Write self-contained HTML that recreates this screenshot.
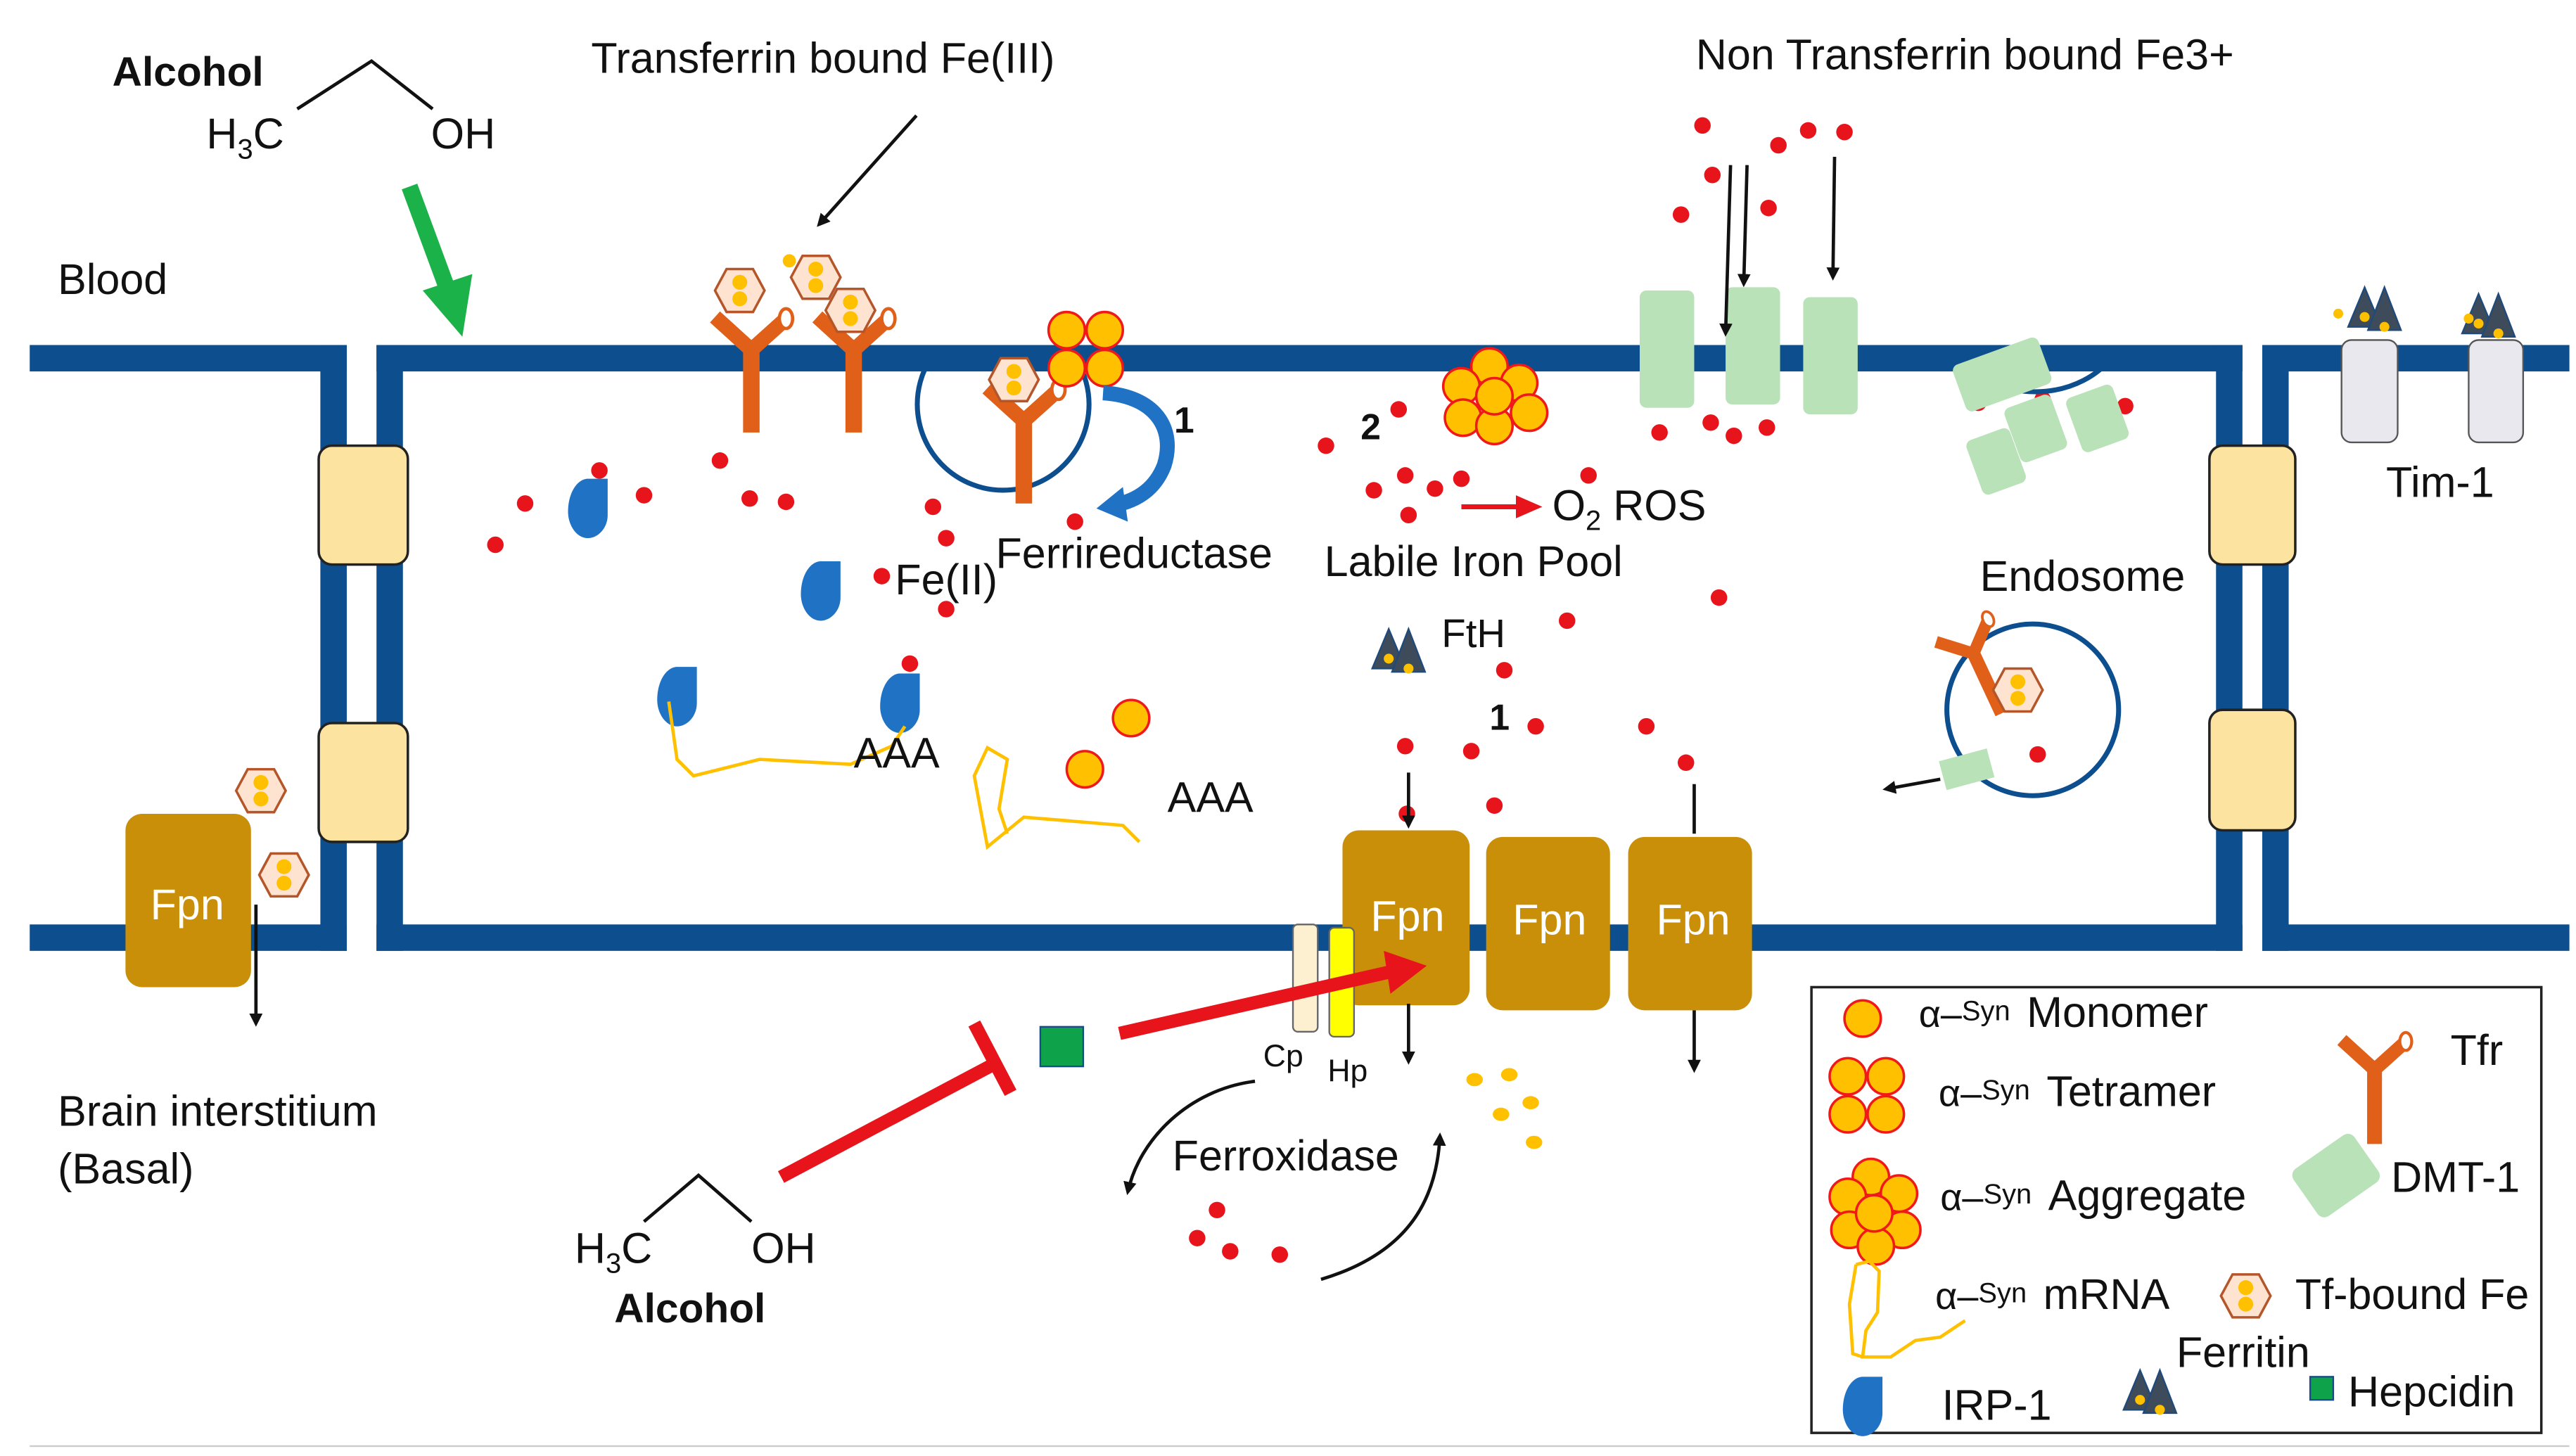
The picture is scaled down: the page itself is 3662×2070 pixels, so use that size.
<!DOCTYPE html>
<html><head><meta charset="utf-8"><style>
html,body{margin:0;padding:0;background:#fff}
svg{display:block}
text{font-family:"Liberation Sans",sans-serif;fill:#111}
</style></head><body>
<svg width="3662" height="2070" viewBox="0 0 1560 882" preserveAspectRatio="none" xmlns="http://www.w3.org/2000/svg">
<defs>
<marker id="ah" markerWidth="8" markerHeight="8" refX="6" refY="4" orient="auto" markerUnits="userSpaceOnUse"><path d="M0,0 L8,4 L0,8 z" fill="#111"/></marker>
<marker id="ahr" markerWidth="16" markerHeight="14" refX="10" refY="7" orient="auto" markerUnits="userSpaceOnUse"><path d="M0,0 L16,7 L0,14 z" fill="#e8141c"/></marker>
<g id="hex"><polygon points="-15,0 -8,-13 8,-13 15,0 8,13 -8,13" fill="#fde3d0" stroke="#b5562a" stroke-width="1.5"/><circle cx="0" cy="-5" r="4.5" fill="#ffc000"/><circle cx="0" cy="5" r="4.5" fill="#ffc000"/></g>
<g id="tfr"><path d="M-22,-20 L0,0 L20,-18" fill="none" stroke="#e0601a" stroke-width="9"/><rect x="-5" y="-2" width="10" height="52" fill="#e0601a"/><ellipse cx="21" cy="-19" rx="4" ry="6" fill="#fff" stroke="#e0601a" stroke-width="2"/></g>
<g id="mono"><circle r="11" fill="#ffc000" stroke="#f01818" stroke-width="1.5"/></g>
<g id="ferr"><polygon points="-14,12 -4,-12 6,12" fill="#3d4b5a" stroke="#1f4a7a"/><polygon points="-2,14 8,-12 18,14" fill="#3d4b5a" stroke="#1f4a7a"/><circle cx="-4" cy="6" r="3" fill="#ffc000"/><circle cx="8" cy="12" r="3" fill="#ffc000"/></g>
<g id="irp"><path d="M0,-16 L12,-16 L12,6 C12,14 6,20 0,20 C-7,20 -12,12 -12,4 C-12,-8 -6,-16 0,-16 z" fill="#1f72c4"/></g>
<g id="d"><circle r="5" fill="#e8141c"/></g>
</defs>

<g fill="#0c4e8e">
<rect x="18" y="209" width="192" height="16"/>
<rect x="228" y="209" width="1130" height="16"/>
<rect x="1370" y="209" width="186" height="16"/>
<rect x="18" y="560" width="192" height="16"/>
<rect x="228" y="560" width="1130" height="16"/>
<rect x="1370" y="560" width="186" height="16"/>
<rect x="194" y="209" width="16" height="367"/>
<rect x="228" y="209" width="16" height="367"/>
<rect x="1342" y="209" width="16" height="367"/>
<rect x="1370" y="209" width="16" height="367"/>
</g>
<g fill="#fde3a0" stroke="#222" stroke-width="1.5">
<rect x="193" y="270" width="54" height="72" rx="8"/>
<rect x="193" y="438" width="54" height="72" rx="8"/>
<rect x="1338" y="270" width="52" height="72" rx="8"/>
<rect x="1338" y="430" width="52" height="73" rx="8"/>
</g>

<text x="68" y="52" font-size="25" font-weight="bold">Alcohol</text>
<text x="125" y="90" font-size="26">H<tspan font-size="17" dy="6">3</tspan><tspan dy="-6">C</tspan></text>
<text x="261" y="90" font-size="26">OH</text>
<path d="M180,66 L225,37 L262,66" fill="none" stroke="#111" stroke-width="2"/>
<line x1="248" y1="113" x2="272" y2="178" stroke="#1cb24a" stroke-width="10"/>
<polygon points="256,176 286,166 280,204" fill="#1cb24a"/>
<text x="358" y="44" font-size="26">Transferrin bound Fe(III)</text>
<line x1="555" y1="70" x2="496" y2="136" stroke="#111" stroke-width="2" marker-end="url(#ah)"/>
<text x="35" y="178" font-size="26">Blood</text>
<text x="1027" y="42" font-size="26">Non Transferrin bound Fe3+</text>

<use href="#tfr" x="455" y="212"/>
<use href="#tfr" x="517" y="212"/>
<use href="#hex" x="448" y="176"/>
<use href="#hex" x="494" y="168"/>
<use href="#hex" x="515" y="188"/>
<circle cx="478" cy="158" r="4" fill="#ffc000"/>
<path d="M565,215 A52,52 0 1 0 650,215" fill="none" stroke="#0c4e8e" stroke-width="3"/>
<use href="#tfr" x="620" y="255"/>
<use href="#hex" x="614" y="230"/>
<use href="#mono" x="646" y="200"/><use href="#mono" x="669" y="200"/><use href="#mono" x="646" y="223"/><use href="#mono" x="669" y="223"/>
<path d="M668,238 C700,240 712,260 705,282 C700,295 690,303 675,306" fill="none" stroke="#1f72c4" stroke-width="9"/>
<polygon points="680,295 664,308 683,316" fill="#1f72c4"/>
<text x="711" y="262" font-size="22" font-weight="bold">1</text>
<text x="603" y="344" font-size="26">Ferrireductase</text>
<text x="542" y="360" font-size="26">Fe(II)</text>

<use href="#irp" x="356" y="306"/>
<use href="#irp" x="497" y="356"/>
<use href="#irp" x="410" y="420"/>
<use href="#irp" x="545" y="424"/>
<g>
<use href="#d" x="300" y="330"/><use href="#d" x="318" y="305"/><use href="#d" x="363" y="285"/><use href="#d" x="390" y="300"/>
<use href="#d" x="436" y="279"/><use href="#d" x="454" y="302"/><use href="#d" x="476" y="304"/><use href="#d" x="565" y="307"/>
<use href="#d" x="573" y="326"/><use href="#d" x="651" y="316"/><use href="#d" x="534" y="349"/><use href="#d" x="573" y="369"/>
<use href="#d" x="551" y="402"/>
<use href="#d" x="803" y="270"/><use href="#d" x="847" y="248"/><use href="#d" x="832" y="297"/><use href="#d" x="851" y="288"/>
<use href="#d" x="869" y="296"/><use href="#d" x="853" y="312"/><use href="#d" x="885" y="290"/><use href="#d" x="962" y="288"/>
<use href="#d" x="949" y="376"/><use href="#d" x="1041" y="362"/><use href="#d" x="911" y="406"/><use href="#d" x="930" y="440"/>
<use href="#d" x="851" y="452"/><use href="#d" x="891" y="455"/><use href="#d" x="905" y="488"/><use href="#d" x="852" y="493"/>
<use href="#d" x="997" y="440"/><use href="#d" x="1021" y="462"/>
<use href="#d" x="1031" y="76"/><use href="#d" x="1037" y="106"/><use href="#d" x="1018" y="130"/><use href="#d" x="1077" y="88"/>
<use href="#d" x="1095" y="79"/><use href="#d" x="1117" y="80"/><use href="#d" x="1071" y="126"/>
<use href="#d" x="1005" y="262"/><use href="#d" x="1036" y="256"/><use href="#d" x="1050" y="264"/><use href="#d" x="1070" y="259"/>
<use href="#d" x="1198" y="244"/><use href="#d" x="1237" y="242"/><use href="#d" x="1287" y="246"/><use href="#d" x="1211" y="291"/>
<use href="#d" x="1234" y="457"/>
<use href="#d" x="737" y="733"/><use href="#d" x="725" y="750"/><use href="#d" x="745" y="758"/><use href="#d" x="775" y="760"/>
</g>
<path d="M405,425 L410,460 L420,470 L460,460 L515,463 L540,452 L548,440" fill="none" stroke="#ffc000" stroke-width="2"/>
<path d="M690,510 L680,500 L620,495 L598,513 L590,470 L598,453 L610,460 L605,490 L610,505" fill="none" stroke="#ffc000" stroke-width="2"/>
<text x="517" y="465" font-size="26">AAA</text>
<text x="707" y="492" font-size="26">AAA</text>
<use href="#mono" x="685" y="435"/><use href="#mono" x="657" y="466"/>

<g>
<use href="#mono" x="902" y="222"/><use href="#mono" x="885" y="234"/><use href="#mono" x="920" y="232"/><use href="#mono" x="886" y="253"/><use href="#mono" x="926" y="250"/><use href="#mono" x="905" y="258"/><use href="#mono" x="905" y="240"/>
</g>
<text x="824" y="266" font-size="22" font-weight="bold">2</text>
<line x1="885" y1="307" x2="928" y2="307" stroke="#e8141c" stroke-width="3" marker-end="url(#ahr)"/>
<text x="940" y="315" font-size="26">O<tspan font-size="17" dy="6">2</tspan><tspan dy="-6"> ROS</tspan></text>
<text x="802" y="349" font-size="26">Labile Iron Pool</text>
<use href="#ferr" x="845" y="393"/>
<text x="873" y="392" font-size="24">FtH</text>
<text x="902" y="442" font-size="22" font-weight="bold">1</text>

<g fill="#b9e2b9">
<rect x="993" y="176" width="33" height="71" rx="4"/>
<rect x="1045" y="174" width="33" height="71" rx="4"/>
<rect x="1092" y="180" width="33" height="71" rx="4"/>
</g>
<line x1="1048" y1="100" x2="1045" y2="202" stroke="#111" stroke-width="2" marker-end="url(#ah)"/>
<line x1="1058" y1="100" x2="1056" y2="172" stroke="#111" stroke-width="2" marker-end="url(#ah)"/>
<line x1="1111" y1="95" x2="1110" y2="168" stroke="#111" stroke-width="2" marker-end="url(#ah)"/>
<path d="M1185,215 A55,45 0 0 0 1280,215" fill="none" stroke="#0c4e8e" stroke-width="3"/>
<g fill="#b9e2b9">
<rect x="1185" y="212" width="55" height="30" rx="4" transform="rotate(-20 1212 227)"/>
<rect x="1218" y="242" width="30" height="35" rx="4" transform="rotate(-20 1233 260)"/>
<rect x="1255" y="236" width="30" height="35" rx="4" transform="rotate(-20 1270 253)"/>
<rect x="1195" y="262" width="28" height="35" rx="4" transform="rotate(-20 1209 280)"/>
</g>
<rect x="1418" y="206" width="34" height="62" rx="6" fill="#e8e8ee" stroke="#555" stroke-width="1"/>
<rect x="1495" y="206" width="33" height="62" rx="6" fill="#e8e8ee" stroke="#555" stroke-width="1"/>
<use href="#ferr" x="1436" y="186"/>
<use href="#ferr" x="1505" y="190"/>
<circle cx="1416" cy="190" r="3" fill="#ffc000"/><circle cx="1495" cy="193" r="3" fill="#ffc000"/>
<text x="1445" y="301" font-size="26">Tim-1</text>
<text x="1199" y="358" font-size="26">Endosome</text>
<circle cx="1231" cy="430" r="52" fill="none" stroke="#0c4e8e" stroke-width="3"/>
<use href="#tfr" x="1195" y="396" transform="rotate(-25 1195 396) scale(0.8) translate(299 99)"/>
<use href="#hex" x="1222" y="418"/>
<rect x="1176" y="457" width="30" height="18" fill="#b9e2b9" transform="rotate(-15 1191 466)"/>
<line x1="1175" y1="472" x2="1142" y2="478" stroke="#111" stroke-width="2" marker-end="url(#ah)"/>

<rect x="76" y="493" width="76" height="105" rx="10" fill="#c98f08"/>
<text x="91" y="557" font-size="26" style="fill:#fff">Fpn</text>
<use href="#hex" x="158" y="479"/><use href="#hex" x="172" y="530"/>
<line x1="155" y1="548" x2="155" y2="620" stroke="#111" stroke-width="2" marker-end="url(#ah)"/>
<text x="35" y="682" font-size="26">Brain interstitium</text>
<text x="35" y="717" font-size="26">(Basal)</text>

<rect x="813" y="503" width="77" height="106" rx="10" fill="#c98f08"/>
<rect x="900" y="507" width="75" height="105" rx="10" fill="#c98f08"/>
<rect x="986" y="507" width="75" height="105" rx="10" fill="#c98f08"/>
<text x="830" y="564" font-size="26" style="fill:#fff">Fpn</text>
<text x="916" y="566" font-size="26" style="fill:#fff">Fpn</text>
<text x="1003" y="566" font-size="26" style="fill:#fff">Fpn</text>
<line x1="853" y1="468" x2="853" y2="500" stroke="#111" stroke-width="2" marker-end="url(#ah)"/>
<line x1="1026" y1="475" x2="1026" y2="505" stroke="#111" stroke-width="2"/>
<line x1="853" y1="608" x2="853" y2="643" stroke="#111" stroke-width="2" marker-end="url(#ah)"/>
<line x1="1026" y1="612" x2="1026" y2="648" stroke="#111" stroke-width="2" marker-end="url(#ah)"/>
<rect x="783" y="560" width="15" height="65" rx="3" fill="#fdf0d0" stroke="#666"/>
<rect x="805" y="562" width="15" height="66" rx="3" fill="#ffff00" stroke="#666"/>
<text x="765" y="646" font-size="19">Cp</text>
<text x="804" y="655" font-size="19">Hp</text>
<line x1="678" y1="626" x2="845" y2="588" stroke="#e8141c" stroke-width="8"/>
<polygon points="838,576 864,585 842,602" fill="#e8141c"/>
<rect x="630" y="622" width="26" height="24" fill="#0ea34a" stroke="#1a4a8a"/>
<line x1="473" y1="713" x2="605" y2="643" stroke="#e8141c" stroke-width="8"/>
<line x1="590" y1="620" x2="612" y2="662" stroke="#e8141c" stroke-width="8"/>
<path d="M390,740 L423,712 L455,740" fill="none" stroke="#111" stroke-width="2"/>
<text x="348" y="765" font-size="26">H<tspan font-size="17" dy="6">3</tspan><tspan dy="-6">C</tspan></text>
<text x="455" y="765" font-size="26">OH</text>
<text x="372" y="801" font-size="25" font-weight="bold">Alcohol</text>
<text x="710" y="709" font-size="26">Ferroxidase</text>
<path d="M760,655 C720,660 690,690 683,722" fill="none" stroke="#111" stroke-width="2" marker-end="url(#ah)"/>
<path d="M800,775 C850,760 870,730 872,688" fill="none" stroke="#111" stroke-width="2" marker-end="url(#ah)"/>
<g fill="#ffc000">
<ellipse cx="893" cy="654" rx="5" ry="4"/><ellipse cx="914" cy="651" rx="5" ry="4"/><ellipse cx="927" cy="668" rx="5" ry="4"/><ellipse cx="909" cy="675" rx="5" ry="4"/><ellipse cx="929" cy="692" rx="5" ry="4"/>
</g>

<rect x="1097" y="598" width="442" height="270" fill="#fff" stroke="#222" stroke-width="1.5"/>
<use href="#mono" x="1128" y="617"/>
<text x="1162" y="622" font-size="23">α–<tspan font-size="17" dy="-4">Syn</tspan><tspan dy="4" dx="10" font-size="26">Monomer</tspan></text>
<use href="#mono" x="1119" y="652"/><use href="#mono" x="1142" y="652"/><use href="#mono" x="1119" y="675"/><use href="#mono" x="1142" y="675"/>
<text x="1174" y="670" font-size="23">α–<tspan font-size="17" dy="-4">Syn</tspan><tspan dy="4" dx="10" font-size="26">Tetramer</tspan></text>
<use href="#mono" x="1133" y="713"/><use href="#mono" x="1119" y="725"/><use href="#mono" x="1150" y="723"/><use href="#mono" x="1120" y="745"/><use href="#mono" x="1152" y="745"/><use href="#mono" x="1136" y="755"/><use href="#mono" x="1135" y="735"/>
<text x="1175" y="733" font-size="23">α–<tspan font-size="17" dy="-4">Syn</tspan><tspan dy="4" dx="10" font-size="26">Aggregate</tspan></text>
<path d="M1124,766 L1132,764 L1138,770 L1137,795 L1130,806 L1128,822 L1145,822 L1160,812 L1175,810 L1190,800" fill="none" stroke="#ffc000" stroke-width="2"/>
<path d="M1124,766 L1120,790 L1122,820 L1128,822" fill="none" stroke="#ffc000" stroke-width="2"/>
<text x="1172" y="793" font-size="23">α–<tspan font-size="17" dy="-4">Syn</tspan><tspan dy="4" dx="10" font-size="26">mRNA</tspan></text>
<use href="#irp" x="1128" y="850"/>
<text x="1176" y="860" font-size="26">IRP-1</text>
<use href="#tfr" x="1438" y="648" transform="translate(1438 648) scale(0.9) translate(-1438 -648)"/>
<text x="1484" y="645" font-size="26">Tfr</text>
<rect x="1392" y="695" width="45" height="35" rx="5" fill="#b9e2b9" transform="rotate(-35 1414 712)"/>
<text x="1448" y="722" font-size="26">DMT-1</text>
<use href="#hex" x="1360" y="785"/>
<text x="1390" y="793" font-size="26">Tf-bound Fe</text>
<text x="1318" y="828" font-size="26">Ferritin</text>
<use href="#ferr" x="1300" y="842"/>
<rect x="1399" y="834" width="14" height="14" fill="#0ea34a" stroke="#1a4a8a"/>
<text x="1422" y="852" font-size="26">Hepcidin</text>
<line x1="18" y1="876" x2="1556" y2="876" stroke="#ccc" stroke-width="1"/>
</svg>
</body></html>
